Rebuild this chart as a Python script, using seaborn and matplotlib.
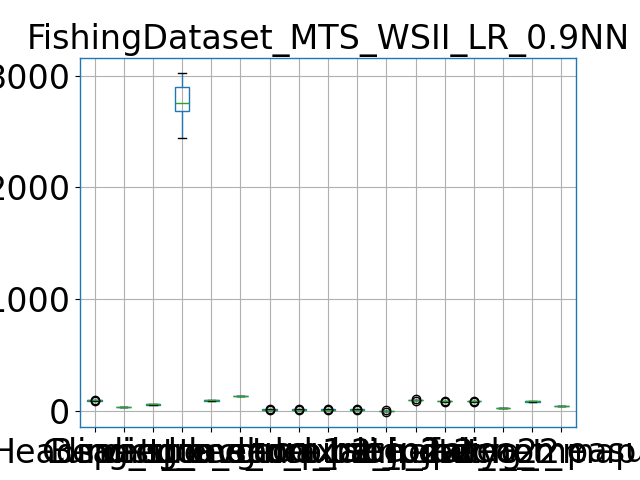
import numpy as np
import pandas as pd
import matplotlib
matplotlib.use("Agg")
import matplotlib.pyplot as plt
import matplotlib.patches as mpatches
import matplotlib.lines as mlines
import matplotlib.collections as mcoll
import seaborn as sns

title = "FishingDataset_MTS_WSII_LR_0.9NN"

features = ["Heading_std", "Curvature", "Bearing_avg", "speed_mean",
            "dist_to_shore", "speed_max", "accel_p1", "accel_p2", "turn_rate",
            "course_p2", "lat_jp2", "lon_jp2", "sinuosity_2", "heading_2",
            "dtw_comp", "frechet_map", "area_measure"]

v01 = [94, 95, 96, 96, 96, 97, 92, 99]
v02 = [37, 38, 39, 39, 40, 41]
v03 = [58, 59, 60, 60, 61, 62]
v04 = [2446, 2600, 2685, 2720, 2754, 2800, 2895, 2950, 3020]
v05 = [94, 95, 96, 96, 97, 98]
v06 = [132, 134, 135, 135, 136, 138]
v07 = [14, 15, 15, 15, 15, 16, 8, 22]
v08 = [14, 15, 15, 15, 15, 16, 8, 22]
v09 = [14, 15, 15, 15, 15, 16, 9, 21]
v10 = [14, 15, 15, 15, 15, 16, 9, 21]
v11 = [2, 3, 3, 3, 3, 4, -3, 9]
v12 = [98, 99, 99, 99, 99, 100, 93, 105]
v13 = [86, 87, 87, 87, 87, 88, 81, 93]
v14 = [86, 87, 87, 87, 87, 88, 81, 93]
v15 = [28, 29, 30, 30, 31, 32]
v16 = [85, 86, 87, 87, 88, 89]
v17 = [43, 44, 45, 45, 46, 47]

series = [v01, v02, v03, v04, v05, v06, v07, v08, v09, v10,
          v11, v12, v13, v14, v15, v16, v17]

rows = []
for name, vals in zip(features, series):
    for v in vals:
        rows.append({"feature": name, "value": v})
df = pd.DataFrame(rows)

BLUE = "#1f77b4"
GREEN = "#2ca02c"

fig, ax = plt.subplots(figsize=(6.4, 4.8), dpi=100)
sns.boxplot(data=df, x="feature", y="value", order=features, ax=ax,
            fill=True, width=0.5, whis=1.5, linewidth=1,
            color="white", linecolor=BLUE, saturation=1,
            boxprops=dict(facecolor="none", edgecolor=BLUE, linewidth=1),
            whiskerprops=dict(color=BLUE, linewidth=1),
            capprops=dict(color="black", linewidth=1),
            medianprops=dict(color=GREEN, linewidth=1),
            flierprops=dict(marker="o", markerfacecolor="none",
                            markeredgecolor="black", markersize=6))

# restyle every box artist like pandas' DataFrame.boxplot
for art in ax.get_children():
    if art is ax.patch:
        continue
    if isinstance(art, mpatches.Patch) and not isinstance(art, mpatches.Rectangle) or \
       (isinstance(art, mpatches.Rectangle) and art is not ax.patch and art.get_width() < 5):
        art.set_edgecolor(BLUE)
        art.set_facecolor("none")
        art.set_alpha(None)
        art.set_linewidth(1)
        art.set_zorder(2)
    elif isinstance(art, mcoll.PatchCollection):
        art.set_edgecolor(BLUE)
        art.set_facecolor("none")
        art.set_linewidth(1)

for ln in ax.lines:
    ln.set_zorder(2.1)
    ln.set_alpha(None)
    if ln.get_marker() not in (None, "None", "", " "):
        ln.set_markeredgecolor("black")
        ln.set_markerfacecolor("none")
        ln.set_markeredgewidth(1)
        continue
    xd = np.asarray(ln.get_xdata(), dtype=float)
    yd = np.asarray(ln.get_ydata(), dtype=float)
    col = matplotlib.colors.to_hex(ln.get_color())
    ln.set_linewidth(1)
    if col == GREEN:
        continue
    if len(xd) == 2 and np.isclose(yd[0], yd[1]):
        ln.set_color("black")
    else:
        ln.set_color(BLUE)

ax.grid(True)
ax.set_axisbelow(True)
ax.set_xlabel("")
ax.set_ylabel("")
ax.set_ylim(-143, 3161)
ax.set_yticks([0, 1000, 2000, 3000])
ax.tick_params(labelsize=24)
ax.set_title(title, fontsize=24)
fig.savefig("out.png", dpi=100)
